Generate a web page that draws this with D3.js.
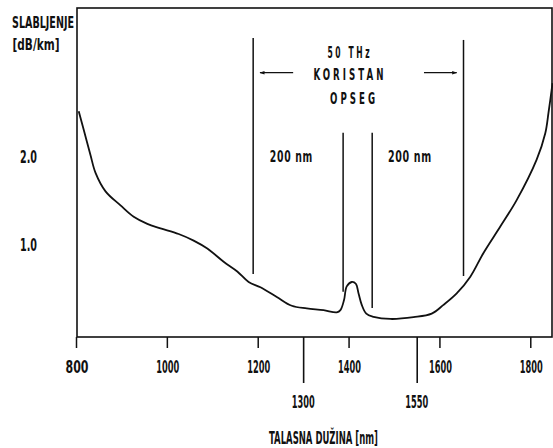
<!DOCTYPE html>
<html><head><meta charset="utf-8">
<script src="https://cdn.jsdelivr.net/npm/d3@7"></script>
<style>
html,body{margin:0;padding:0;background:#fff;}
svg text{font-family:"DejaVu Sans Condensed","DejaVu Sans",sans-serif;font-weight:bold;fill:#111;}
</style></head>
<body><svg id="c" width="553" height="448"></svg>
<script>
// Data
const wavelength = [806,817,832,843,865,898,927,957,986,1026,1059,1089,1125,1155,1180,1206,1242,1275,1308,1345,1374,1382,1390,1396,1407,1416,1422,1429,1439,1455,1492,1543,1583,1609,1638,1668,1697,1734,1770,1814,1833,1840,1849];
const attenuation = [2.52,2.31,2.02,1.82,1.61,1.45,1.32,1.24,1.19,1.125,1.05,0.96,0.81,0.70,0.58,0.52,0.41,0.31,0.28,0.26,0.235,0.26,0.375,0.53,0.58,0.56,0.45,0.32,0.22,0.185,0.16,0.18,0.22,0.32,0.45,0.64,0.91,1.21,1.51,1.97,2.27,2.50,2.84];
const xTicks = [800,1000,1200,1400,1600,1800];
const xTicksLong = [1300,1550];
const yTicks = [1.0,2.0];
const yLabel = ["SLABLJENJE","[dB/km]"];
const xLabel = "TALASNA DUŽINA [nm]";
const markerLines = [ {x:1190,y0:0.671,y1:3.353}, {x:1388,y0:0.47,y1:2.277}, {x:1452,y0:0.285,y1:2.277}, {x:1653,y0:0.648,y1:3.33} ];
const arrows = [ {from:1278,to:1205,y:2.958}, {from:1566,to:1638,y:2.958} ];
const notes = [
  {t:"50 THz", x:1403, y:3.194, w:45},
  {t:"KORISTAN", x:1403, y:2.944, w:73},
  {t:"OPSEG", x:1412, y:2.67, w:48},
  {t:"200 nm", x:1274, y:2.01, w:43},
  {t:"200 nm", x:1535, y:2.01, w:44}
];

const svg = d3.select("#c");
const L=77, R=552, T=8, B=337;
const x = d3.scaleLinear().domain([800,1850]).range([76,553]);
const y = d3.scaleLinear().domain([-0.045,3.693]).range([B,T]);

// text helper: centred at (cx,cy), scaled to width w
function label(txt, cx, cy, w, fs, ls){
  const g = svg.append("g").attr("transform",`translate(${cx},${cy})`);
  const t = g.append("text").attr("text-anchor","middle").attr("dy","0.36em")
    .attr("font-size",fs).style("letter-spacing",(ls||0)+"px").text(txt);
  const nat = t.node().getBBox().width;
  const k = w/nat;
  g.attr("transform",`translate(${cx},${cy}) scale(${k},1)`);
  return g;
}

// frame
svg.append("rect").attr("x",L).attr("y",T).attr("width",R-L).attr("height",B-T)
  .attr("fill","none").attr("stroke","#111").attr("stroke-width",1.6);

// x axis short ticks
const ax = svg.append("g").attr("transform",`translate(0,${B})`)
  .call(d3.axisBottom(x).tickValues(xTicks).tickSize(11).tickFormat(""));
ax.select(".domain").remove();
ax.selectAll("line").attr("stroke","#111").attr("stroke-width",1.5);
const ax2 = svg.append("g").attr("transform",`translate(0,${B})`)
  .call(d3.axisBottom(x).tickValues(xTicksLong).tickSize(46).tickFormat(""));
ax2.select(".domain").remove();
ax2.selectAll("line").attr("stroke","#111").attr("stroke-width",1.6);

const FS = 17;
xTicks.forEach(v=>label(String(v), x(v)+1, 367, 23, FS, 0));
xTicksLong.forEach(v=>label(String(v), x(v), 402, 23, FS, 0));
label(xLabel, 323.5, 438, 109, FS, 0);

// y labels
yTicks.forEach(v=>label(d3.format(".1f")(v), 28.5, y(v), 17, FS, 0));
label(yLabel[0], 43, 22, 62, 16, 0);
label(yLabel[1], 36, 44, 47, 16, 0);

// curve
const pts = wavelength.map((w,i)=>[w,attenuation[i]]);
svg.append("path").datum(pts)
  .attr("d", d3.line().x(d=>x(d[0])).y(d=>y(d[1])).curve(d3.curveCatmullRom.alpha(0.5)))
  .attr("fill","none").attr("stroke","#111").attr("stroke-width",1.8);

// vertical marker lines
svg.selectAll(".ml").data(markerLines).enter().append("line")
  .attr("x1",d=>x(d.x)).attr("x2",d=>x(d.x)).attr("y1",d=>y(d.y0)).attr("y2",d=>y(d.y1))
  .attr("stroke","#111").attr("stroke-width",1.5);

// arrows
const defs = svg.append("defs");
defs.append("marker").attr("id","ah").attr("viewBox","0 0 10 10").attr("refX",9).attr("refY",5)
  .attr("markerWidth",7).attr("markerHeight",5).attr("markerUnits","userSpaceOnUse").attr("orient","auto")
  .append("path").attr("d","M0,1.5 L10,5 L0,8.5 Z").attr("fill","#111");
svg.selectAll(".ar").data(arrows).enter().append("line")
  .attr("x1",d=>x(d.from)).attr("x2",d=>x(d.to)).attr("y1",d=>y(d.y)).attr("y2",d=>y(d.y))
  .attr("stroke","#111").attr("stroke-width",1.3).attr("marker-end","url(#ah)");

notes.forEach(n=>label(n.t, x(n.x), y(n.y), n.w, 16, (n.t==="200 nm")?1:5));
</script></body></html>
